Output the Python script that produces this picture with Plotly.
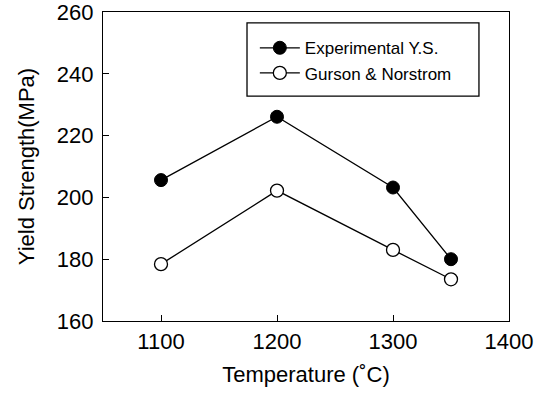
import plotly.graph_objects as go

temperature = [1100, 1200, 1300, 1350]
experimental_ys = [205.6, 226.1, 203.2, 180.0]
gurson_norstrom = [178.4, 202.2, 183.0, 173.5]

x_ticks = [1100, 1200, 1300, 1400]
y_ticks = [160, 180, 200, 220, 240, 260]

FONT = "Liberation Sans, Arial, sans-serif"

fig = go.Figure()
fig.add_trace(go.Scatter(
    x=temperature, y=experimental_ys, mode="lines+markers",
    name="Experimental Y.S.",
    line=dict(color="black", width=1.3),
    marker=dict(symbol="circle", size=13, color="black", line=dict(color="black", width=1)),
))
fig.add_trace(go.Scatter(
    x=temperature, y=gurson_norstrom, mode="lines+markers",
    name="Gurson & Norstrom",
    line=dict(color="black", width=1.3),
    marker=dict(symbol="circle", size=13, color="white", line=dict(color="black", width=1.3)),
))

# legend frame (drawn as a shape so its size can match the reference)
fig.add_shape(type="rect", xref="paper", yref="paper",
              x0=0.3547, x1=0.926, y0=0.728, y1=0.965,
              line=dict(color="black", width=1.3), fillcolor="rgba(0,0,0,0)")

fig.update_layout(
    width=541, height=396,
    margin=dict(l=103, r=32, t=12, b=75, autoexpand=False),
    paper_bgcolor="white", plot_bgcolor="white",
    font=dict(family=FONT, color="black", size=22),
    showlegend=True,
    legend=dict(
        x=0.374, y=0.941, xanchor="left", yanchor="top",
        borderwidth=0, bgcolor="rgba(0,0,0,0)",
        font=dict(size=17, family=FONT),
        itemwidth=40, tracegroupgap=0,
    ),
    xaxis=dict(
        range=[1050, 1400], tickvals=x_ticks, ticktext=[str(v) for v in x_ticks],
        showgrid=False, zeroline=False, automargin=False,
        showline=True, linecolor="black", linewidth=1.3, mirror=True,
        ticks="inside", ticklen=6, tickcolor="black", tickwidth=1.2,
        ticklabelstandoff=0, ticklabeloverflow="allow",
        tickfont=dict(size=22),
        title=dict(text="Temperature (˚C)", font=dict(size=22), standoff=14),
    ),
    yaxis=dict(
        range=[160, 260], tickvals=y_ticks, ticktext=[str(v) for v in y_ticks],
        showgrid=False, zeroline=False, automargin=False,
        showline=True, linecolor="black", linewidth=1.3, mirror=True,
        ticks="inside", ticklen=6, tickcolor="black", tickwidth=1.2,
        ticklabelstandoff=4, ticklabeloverflow="allow",
        tickfont=dict(size=22),
        title=dict(text="Yield Strength(MPa)", font=dict(size=22), standoff=16),
    ),
)

fig.write_html("out.html")
